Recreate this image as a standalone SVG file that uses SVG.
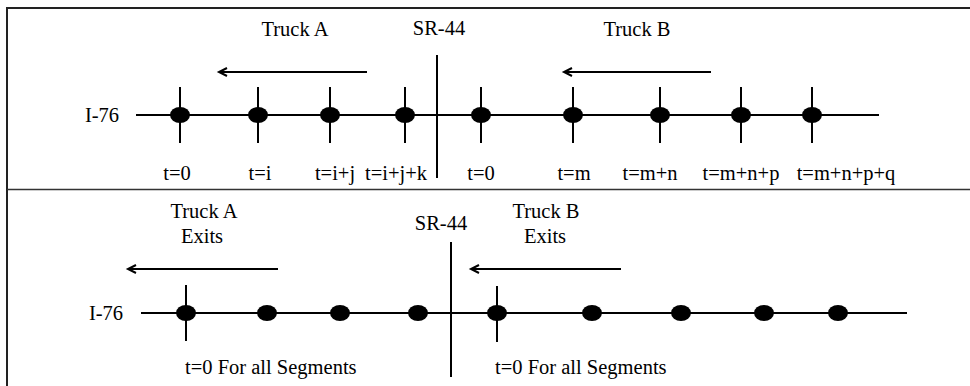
<svg xmlns="http://www.w3.org/2000/svg" width="970" height="386" viewBox="0 0 970 386">
<defs>
<marker id="ah" markerWidth="12" markerHeight="12" refX="9" refY="6" orient="auto" markerUnits="userSpaceOnUse">
<polyline points="1,2 9,6 1,10" fill="none" stroke="#000" stroke-width="2"/>
</marker>
<style>
text{font-family:"Liberation Serif","Times New Roman",serif;font-size:20.5px;fill:#000}
.c{text-anchor:middle}
.ln{stroke:#000;stroke-width:2;fill:none}
.tk{stroke:#000;stroke-width:2}
.dot{fill:#000}
.frame{stroke:#222;stroke-width:2;fill:none}
.arr{stroke:#000;stroke-width:2;marker-end:url(#ah)}
</style>
</defs>
<rect width="970" height="386" fill="#fff"/>
<g id="frame">
<path class="frame" d="M7,386 V8 H970"/>
<path d="M7,189.5 H970" stroke="#333" stroke-width="1.5"/>
</g>
<g id="connectors">
<line class="ln" x1="136" y1="115" x2="879" y2="115"/>
<line class="ln" x1="437" y1="55" x2="437" y2="178"/>
<line class="arr" x1="367" y1="72" x2="219" y2="72"/>
<line class="arr" x1="711" y1="72" x2="564" y2="72"/>
<line class="ln" x1="141" y1="313" x2="907" y2="313"/>
<line class="ln" x1="451" y1="242" x2="451" y2="377"/>
<line class="arr" x1="278" y1="269" x2="128" y2="269"/>
<line class="arr" x1="621" y1="269" x2="471" y2="269"/>
</g>
<g id="top-labels">
<text x="102" y="122" class="c">I-76</text>
<text x="295" y="36" class="c">Truck A</text>
<text x="439" y="35" class="c">SR-44</text>
<text x="637" y="36" class="c">Truck B</text>
</g>
<g id="top-nodes">
<g id="t1"><line class="tk" x1="180" y1="87" x2="180" y2="143"/><ellipse class="dot" cx="180" cy="115" rx="10" ry="8"/><text x="177" y="180" class="c">t=0</text></g>
<g id="t2"><line class="tk" x1="258" y1="87" x2="258" y2="143"/><ellipse class="dot" cx="258" cy="115" rx="10" ry="8"/><text x="260" y="180" class="c">t=i</text></g>
<g id="t3"><line class="tk" x1="330" y1="87" x2="330" y2="143"/><ellipse class="dot" cx="330" cy="115" rx="10" ry="8"/><text x="335" y="180" class="c">t=i+j</text></g>
<g id="t4"><line class="tk" x1="405" y1="87" x2="405" y2="143"/><ellipse class="dot" cx="405" cy="115" rx="10" ry="8"/><text x="396" y="180" class="c">t=i+j+k</text></g>
<g id="t5"><line class="tk" x1="481" y1="87" x2="481" y2="143"/><ellipse class="dot" cx="481" cy="115" rx="10" ry="8"/><text x="481" y="180" class="c">t=0</text></g>
<g id="t6"><line class="tk" x1="573" y1="87" x2="573" y2="143"/><ellipse class="dot" cx="573" cy="115" rx="10" ry="8"/><text x="574" y="180" class="c">t=m</text></g>
<g id="t7"><line class="tk" x1="660" y1="87" x2="660" y2="143"/><ellipse class="dot" cx="660" cy="115" rx="10" ry="8"/><text x="650" y="180" class="c">t=m+n</text></g>
<g id="t8"><line class="tk" x1="741" y1="87" x2="741" y2="143"/><ellipse class="dot" cx="741" cy="115" rx="10" ry="8"/><text x="741" y="180" class="c">t=m+n+p</text></g>
<g id="t9"><line class="tk" x1="812" y1="87" x2="812" y2="143"/><ellipse class="dot" cx="812" cy="115" rx="10" ry="8"/><text x="846" y="180" class="c">t=m+n+p+q</text></g>
</g>
<g id="bottom-labels">
<text x="106" y="320" class="c">I-76</text>
<text class="c"><tspan x="204" y="218">Truck A</tspan><tspan x="202" y="243">Exits</tspan></text>
<text x="441" y="230" class="c">SR-44</text>
<text class="c"><tspan x="546" y="218">Truck B</tspan><tspan x="545" y="243">Exits</tspan></text>
<text x="185" y="374">t=0 For all Segments</text>
<text x="495" y="374">t=0 For all Segments</text>
</g>
<g id="bottom-nodes">
<g id="b1"><line class="tk" x1="186" y1="285" x2="186" y2="341"/><ellipse class="dot" cx="186" cy="313" rx="10" ry="8"/></g>
<g id="b2"><ellipse class="dot" cx="267" cy="313" rx="10" ry="8"/></g>
<g id="b3"><ellipse class="dot" cx="340" cy="313" rx="10" ry="8"/></g>
<g id="b4"><ellipse class="dot" cx="418" cy="313" rx="10" ry="8"/></g>
<g id="b5"><line class="tk" x1="497" y1="286" x2="497" y2="342"/><ellipse class="dot" cx="497" cy="313" rx="10" ry="8"/></g>
<g id="b6"><ellipse class="dot" cx="592" cy="313" rx="10" ry="8"/></g>
<g id="b7"><ellipse class="dot" cx="681" cy="313" rx="10" ry="8"/></g>
<g id="b8"><ellipse class="dot" cx="764" cy="313" rx="10" ry="8"/></g>
<g id="b9"><ellipse class="dot" cx="838" cy="313" rx="10" ry="8"/></g>
</g>
</svg>
